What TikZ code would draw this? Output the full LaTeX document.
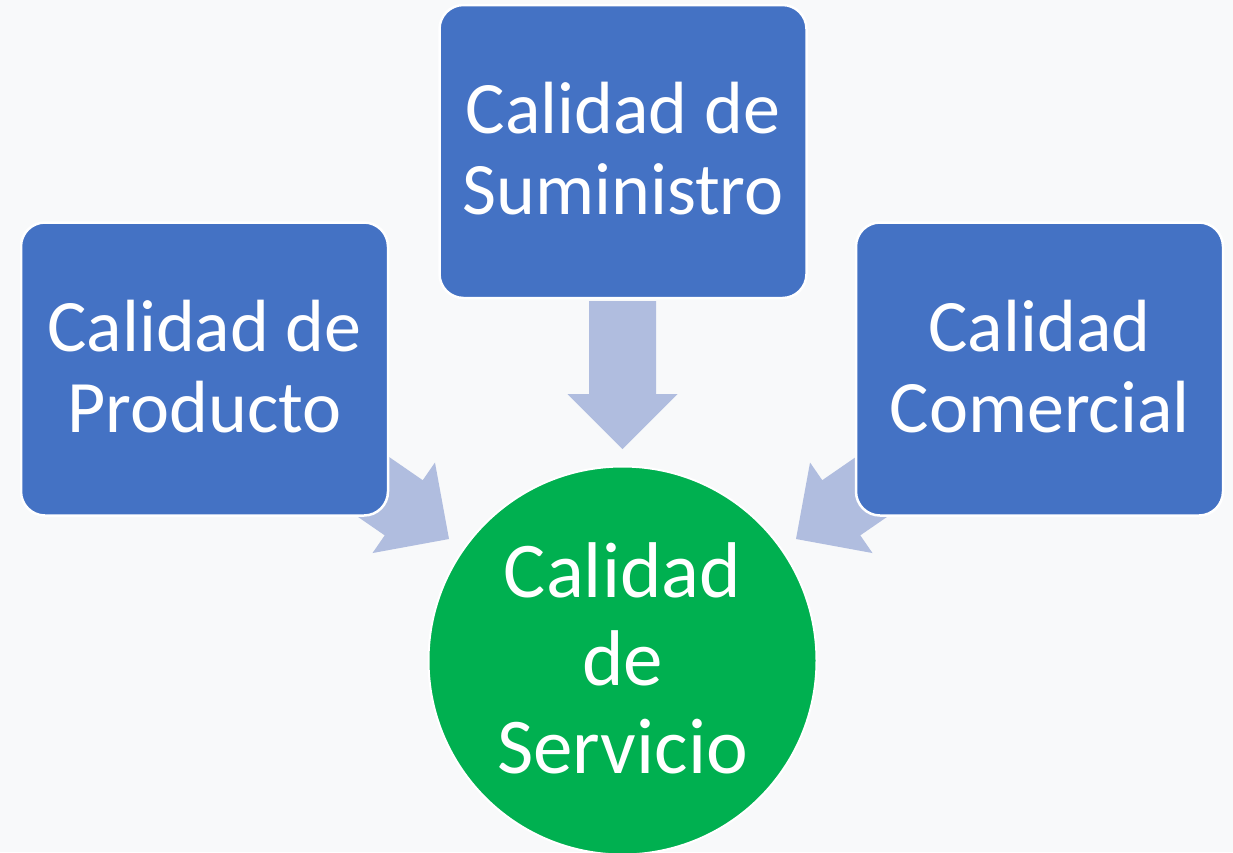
\documentclass[tikz,border=0pt]{standalone}
\usepackage{fontspec}
\setmainfont{Carlito}
\definecolor{bgcol}{RGB}{248,249,250}
\definecolor{boxblue}{RGB}{68,114,196}
\definecolor{cgreen}{RGB}{0,176,80}
\definecolor{arrowblue}{RGB}{176,189,223}
\newcommand{\lowfix}[1]{\rule[-#1]{0pt}{0pt}}
\tikzset{
  boxnode/.style={rectangle, rounded corners=24pt, fill=boxblue, draw=white, line width=2.5pt,
    minimum width=367pt, minimum height=293pt, inner sep=0pt, text=white, align=center,
    font=\fontsize{74}{81}\selectfont},
  circnode/.style={circle, fill=cgreen, draw=white, line width=2pt, minimum size=388pt,
    inner sep=0pt, text=white, align=center, font=\fontsize{79}{88}\selectfont},
  blockarrow/.pic={\fill[arrowblue] (0,0) -- (-55,-55) -- (-55,-33.5) -- (-148,-33.5)
    -- (-148,33.5) -- (-55,33.5) -- (-55,55) -- cycle;}
}
\begin{document}
\begin{tikzpicture}[x=1pt,y=-1pt]
\fill[bgcol] (0,0) rectangle (1233,852);
\useasboundingbox (0,0) rectangle (1233,852);
% block arrows (under the boxes)
\coordinate (ttip) at (622.5,449);
\coordinate (ltip) at (449,539);
\coordinate (rtip) at (796,539);
\pic[rotate=-90] at (ttip) {blockarrow};
\pic[rotate=-34.6] at (ltip) {blockarrow};
\pic[rotate=-145.4] at (rtip) {blockarrow};
% boxes
\node[boxnode] (sum) at (623,151.5) {Calidad de\\Suministro\lowfix{6pt}};
\node[boxnode] (prod) at (204.5,369) {Calidad de\\Producto\lowfix{6pt}};
\node[boxnode] (com) at (1039.5,369) {Calidad\\Comercial\lowfix{6pt}};
\node[circnode] (serv) at (622.5,660.5) {Calidad\\de\\Servicio\lowfix{5pt}};
\end{tikzpicture}
\end{document}
